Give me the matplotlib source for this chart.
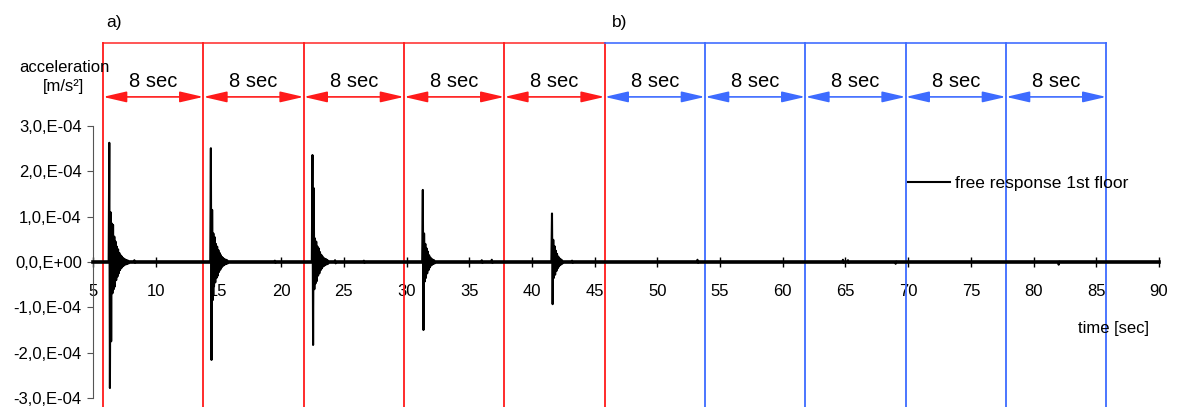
import matplotlib.pyplot as plt
import numpy as np

plt.rcParams['font.family'] = ['Liberation Sans', 'DejaVu Sans']

# axis ticks
x_ticks = list(range(5, 95, 5))
y_ticks = [-3e-4, -2e-4, -1e-4, 0.0, 1e-4, 2e-4, 3e-4]
y_labels = ['-3,0,E-04', '-2,0,E-04', '-1,0,E-04', '0,0,E+00',
            '1,0,E-04', '2,0,E-04', '3,0,E-04']

# 8 sec windows: a) red, b) blue
window_edges = [5.8, 13.8, 21.8, 29.8, 37.8, 45.8, 53.8, 61.8, 69.8, 77.8, 85.8]
window_text = "8 sec"

# impact onsets [sec] and read-off peaks [1e-4 m/s2], one sample every 0.05 s
hit_times = [6.3, 14.4, 22.5, 31.3, 41.6]
hit1 = [2.63, -2.78, 1.10, -1.75, 0.85, -0.69, 0.82, -0.60, 0.56, -0.54, 0.45,
        -0.40, 0.34, -0.32, 0.28, -0.25, 0.20, -0.18, 0.15, -0.14, 0.12, -0.10,
        0.09, -0.08, 0.07, -0.06, 0.05, -0.05, 0.04, -0.04, 0.03, -0.03, 0.0]
hit2 = [2.51, -2.16, 1.15, -0.84, 0.63, -0.54, 0.55, -0.45, 0.40, -0.35, 0.34,
        -0.30, 0.26, -0.22, 0.20, -0.17, 0.15, -0.12, 0.11, -0.09, 0.08, -0.07,
        0.06, -0.05, 0.05, -0.04, 0.04, -0.03, 0.0]
hit3 = [2.36, -1.83, 1.63, -0.60, 0.52, -0.47, 0.45, -0.42, 0.34, -0.30, 0.30,
        -0.25, 0.22, -0.18, 0.16, -0.14, 0.12, -0.10, 0.09, -0.08, 0.07, -0.06,
        0.06, -0.05, 0.04, -0.04, 0.0]
hit4 = [1.59, -1.50, 0.63, -0.43, 0.40, -0.35, 0.30, -0.25, 0.23, -0.18, 0.15,
        -0.12, 0.10, -0.08, 0.07, -0.06, 0.05, -0.04, 0.04, -0.03, 0.0]
hit5 = [1.07, -0.93, 0.49, -0.35, 0.35, -0.28, 0.25, -0.20, 0.18, -0.14, 0.12,
        -0.10, 0.08, -0.07, 0.06, -0.05, 0.04, -0.03, 0.0]
hits = [hit1, hit2, hit3, hit4, hit5]
sample_dt = 0.05

# small background blips between impacts [sec], [1e-4 m/s2]
noise_t = [5.0, 6.25,
           8.25, 8.3, 8.35, 8.4,
           13.7, 14.35,
           19.45, 19.5, 19.55, 19.6,
           22.45,
           24.25, 24.3, 24.35, 24.4,
           26.55, 26.6, 26.65, 26.7,
           31.25,
           35.95, 36.0, 36.05, 36.1,
           36.75, 36.8, 36.85, 36.9,
           41.55,
           43.15, 43.2, 43.25, 43.3,
           53.15, 53.2, 53.25, 53.3,
           64.75, 64.8, 64.85, 64.9,
           65.15, 65.2, 65.25, 65.3,
           68.95, 69.0, 69.05, 69.1,
           81.95, 82.0, 82.05, 82.1,
           90.0]
noise_a = [0.0, 0.0,
           0.0, 0.04, -0.02, 0.0,
           0.0, 0.0,
           0.0, 0.03, -0.02, 0.0,
           0.0,
           0.0, 0.04, -0.03, 0.0,
           0.0, 0.03, -0.02, 0.0,
           0.0,
           0.0, 0.04, -0.02, 0.0,
           0.0, 0.05, -0.02, 0.0,
           0.0,
           0.0, 0.03, -0.02, 0.0,
           0.0, 0.05, -0.02, 0.0,
           0.0, 0.05, -0.02, 0.0,
           0.0, 0.04, -0.02, 0.0,
           0.0, -0.04, 0.01, 0.0,
           0.0, -0.06, 0.01, 0.0,
           0.0]

t = list(noise_t)
a = list(noise_a)
for start, amps in zip(hit_times, hits):
    for i, v in enumerate(amps):
        t.append(start + i * sample_dt)
        a.append(v)
order = np.argsort(t, kind='stable')
t = np.array(t)[order]
a = np.array(a)[order] * 1e-4

fig = plt.figure(figsize=(11.8, 4.07), dpi=100)
ax = fig.add_axes([0.0788, 0.0221, 0.9034, 0.6683])

ax.plot(t, a, color='black', lw=1.5, label='free response 1st floor')

ax.set_xlim(5, 90)
ax.set_ylim(-3e-4, 3e-4)
ax.set_xticks(x_ticks)
ax.set_xticklabels([str(x) for x in x_ticks])
ax.set_yticks(y_ticks)
ax.set_yticklabels(y_labels)
ax.spines['top'].set_visible(False)
ax.spines['right'].set_visible(False)
ax.spines['bottom'].set_position(('data', 0))
ax.spines['bottom'].set_linewidth(2.6)
ax.spines['left'].set_color('#555555')
ax.tick_params(axis='x', direction='inout', length=7, width=1, pad=12, labelsize=12)
ax.tick_params(axis='y', direction='out', length=4, pad=4, labelsize=12,
               color='#555555')
ax.patch.set_visible(False)

# window frames, arrows and labels
trans = ax.get_xaxis_transform()
red = '#FF1A1A'
blue = '#3D6BFF'
for i, x in enumerate(window_edges):
    c = red if i <= 5 else blue
    ax.plot([x, x], [-0.04, 1.305], transform=trans, clip_on=False, color=c, lw=1.3)
ax.plot([window_edges[0], window_edges[5]], [1.305, 1.305], transform=trans,
        clip_on=False, color=red, lw=1.3, alpha=0.8)
ax.plot([window_edges[5], window_edges[10]], [1.305, 1.305], transform=trans,
        clip_on=False, color=blue, lw=1.3, alpha=0.9)
for i in range(len(window_edges) - 1):
    c = red if i < 5 else blue
    ax.annotate('', xy=(window_edges[i], 1.107), xytext=(window_edges[i + 1], 1.107),
                xycoords=trans, textcoords=trans, annotation_clip=False,
                arrowprops=dict(arrowstyle='<|-|>,head_length=0.95,head_width=0.22',
                                mutation_scale=15, color=c, lw=1.2,
                                shrinkA=0, shrinkB=0))
    ax.text((window_edges[i] + window_edges[i + 1]) / 2, 1.165, window_text,
            transform=trans, ha='center', va='center', fontsize=14.5)

fig.text(114 / 1180, 1 - 22 / 407, 'a)', ha='center', va='center', fontsize=12.5)
fig.text(620 / 1180, 1 - 22 / 407, 'b)', ha='center', va='center', fontsize=12.5)
fig.text(64 / 1180, 1 - 68 / 407, 'acceleration', ha='center', va='center', fontsize=12)
fig.text(64 / 1180, 1 - 87 / 407, '[m/s²]', ha='center', va='center', fontsize=12)
fig.text(1113 / 1180, 1 - 329 / 407, 'time [sec]', ha='center', va='center', fontsize=12)

ax.legend(loc='center left', bbox_to_anchor=(908 / 1180, 1 - 183 / 407),
          bbox_transform=fig.transFigure, frameon=False, fontsize=12.5,
          handlelength=2.4, handletextpad=0.3, borderpad=0, borderaxespad=0)

fig.savefig('out.png', dpi=100)
